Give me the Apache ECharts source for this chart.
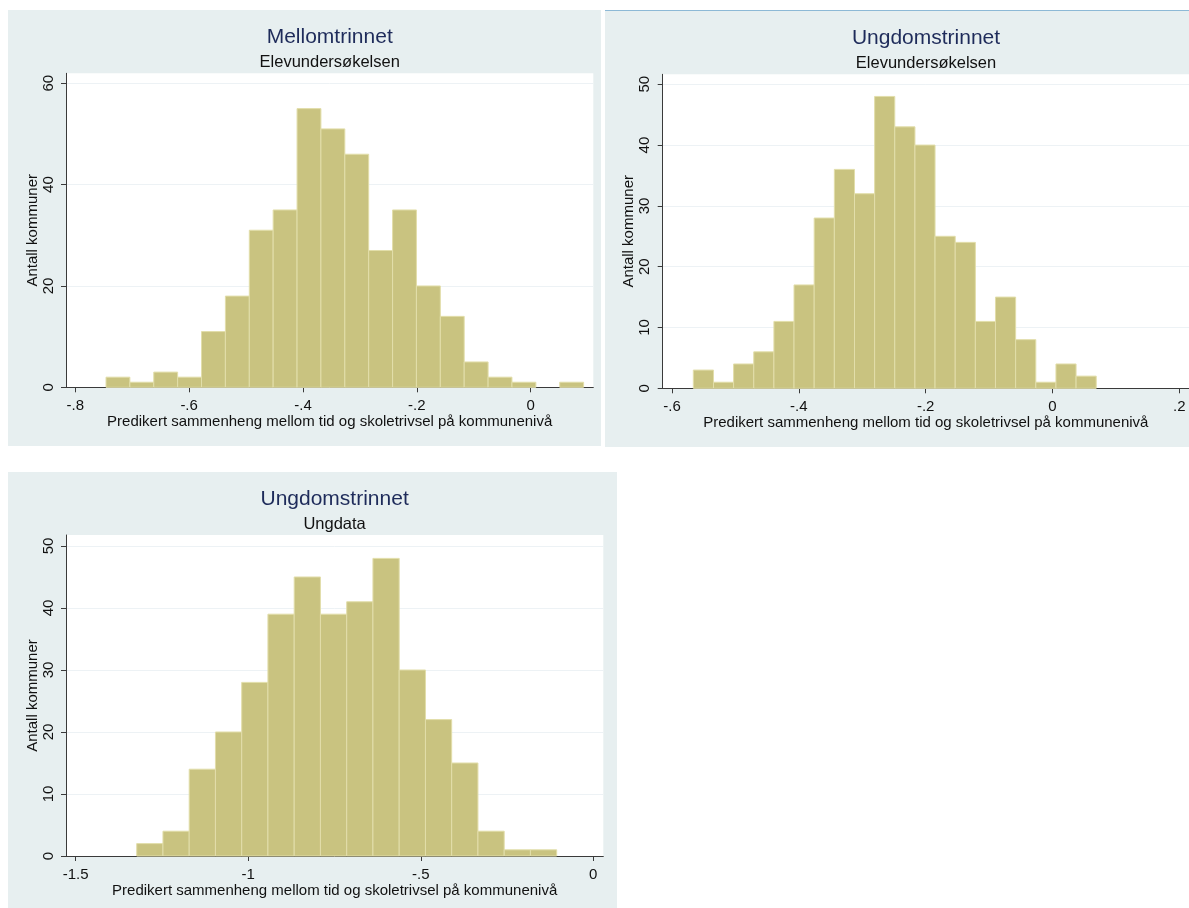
<!DOCTYPE html>
<html>
<head>
<meta charset="utf-8">
<title>Predikert sammenheng mellom tid og skoletrivsel</title>
<script src="https://cdn.jsdelivr.net/npm/echarts@6/dist/echarts.min.js"></script>
<style>
  html, body { margin: 0; padding: 0; background: #ffffff; }
  #chart { width: 1189px; height: 908px; }
</style>
</head>
<body>
<div id="chart"></div>
<script>
// Histogram bins: lower/upper edges and number of municipalities per bin

// Mellomtrinnet, Elevundersøkelsen
const mellomEdges = [-0.746, -0.7041, -0.6621, -0.6202, -0.5782, -0.5363, -0.4943, -0.4524, -0.4104, -0.3685,
  -0.3265, -0.2846, -0.2426, -0.2007, -0.1587, -0.1168, -0.0748, -0.0329, 0.0091, 0.0510, 0.0930];
const mellomCounts = [2, 1, 3, 2, 11, 18, 31, 35, 55, 51, 46, 27, 35, 20, 14, 5, 2, 1, 0, 1];

// Ungdomstrinnet, Elevundersøkelsen
const ungEleEdges = [-0.5664, -0.5346, -0.5029, -0.4711, -0.4393, -0.4076, -0.3758, -0.3440, -0.3122, -0.2805,
  -0.2487, -0.2169, -0.1852, -0.1534, -0.1216, -0.0899, -0.0581, -0.0263, 0.0055, 0.0372, 0.0690];
const ungEleCounts = [3, 1, 4, 6, 11, 17, 28, 36, 32, 48, 43, 40, 25, 24, 11, 15, 8, 1, 4, 2];

// Ungdomstrinnet, Ungdata
const ungdataEdges = [-1.3232, -1.2471, -1.1711, -1.0950, -1.0189, -0.9429, -0.8668, -0.7907, -0.7146,
  -0.6386, -0.5625, -0.4864, -0.4104, -0.3343, -0.2582, -0.1822, -0.1061];
const ungdataCounts = [2, 4, 14, 20, 28, 39, 45, 39, 41, 48, 30, 22, 15, 4, 1, 1];

// Axis tick values
const mellomXTicks = [-0.8, -0.6, -0.4, -0.2, 0];
const mellomYTicks = [0, 20, 40, 60];
const ungEleXTicks = [-0.6, -0.4, -0.2, 0, 0.2];
const ungEleYTicks = [0, 10, 20, 30, 40, 50];
const ungdataXTicks = [-1.5, -1, -0.5, 0];
const ungdataYTicks = [0, 10, 20, 30, 40, 50];

// Texts
const panelTitles = ['Mellomtrinnet', 'Ungdomstrinnet', 'Ungdomstrinnet'];
const panelSubtitles = ['Elevundersøkelsen', 'Elevundersøkelsen', 'Ungdata'];
const xName = 'Predikert sammenheng mellom tid og skoletrivsel på kommunenivå';
const yName = 'Antall kommuner';

// ---------------------------------------------------------------

const FONT = '"Liberation Sans", Arial, Helvetica, sans-serif';
const PANEL_BG = '#e7eff0';
const BAR_FILL = '#c9c380';
const BAR_EDGE = '#e2deaa';
const AXIS_COL = '#3a3a3a';

function binData(edges, counts) {
  return counts.map((c, i) => [edges[i], edges[i + 1], c]);
}

// Stata-style number labels: -.8, .2, -1.5, 0
function stataNum(v) {
  const s = String(+(+v).toFixed(4));
  return s.replace(/^(-?)0\./, '$1.');
}

function renderBin(params, api) {
  const n = api.value(2);
  if (!n) return null;
  const p0 = api.coord([api.value(0), n]);
  const p1 = api.coord([api.value(1), 0]);
  return {
    type: 'rect',
    shape: { x: p0[0], y: p0[1], width: p1[0] - p0[0], height: p1[1] - p0[1] },
    style: { fill: BAR_FILL, stroke: BAR_EDGE, lineWidth: 1 }
  };
}

function xAxisCfg(gridIndex, min, max, ticks) {
  return {
    type: 'value', gridIndex, min, max,
    name: xName, nameLocation: 'middle', nameGap: 26,
    nameTextStyle: { fontFamily: FONT, fontSize: 15, color: '#111' },
    axisLine: { show: true, onZero: false, lineStyle: { color: AXIS_COL, width: 1 } },
    axisTick: { show: true, length: 5, customValues: ticks, lineStyle: { color: AXIS_COL } },
    axisLabel: { customValues: ticks, formatter: stataNum, margin: 11,
      fontFamily: FONT, fontSize: 15, color: '#111' },
    splitLine: { show: false }
  };
}

function yAxisCfg(gridIndex, max, ticks) {
  return {
    type: 'value', gridIndex, min: 0, max,
    name: yName, nameLocation: 'middle', nameGap: 26, nameRotate: 90,
    nameTextStyle: { fontFamily: FONT, fontSize: 15, color: '#111' },
    axisLine: { show: true, onZero: false, lineStyle: { color: AXIS_COL, width: 1 } },
    axisTick: { show: true, length: 5, customValues: ticks, lineStyle: { color: AXIS_COL } },
    axisLabel: { customValues: ticks, rotate: 90, margin: 10, formatter: stataNum,
      fontFamily: FONT, fontSize: 15, color: '#111' },
    splitLine: { show: true, lineStyle: { color: '#edf2f5', width: 1 } }
  };
}

function titleCfg(i, centerX, top) {
  return {
    text: panelTitles[i], subtext: panelSubtitles[i],
    left: centerX, top, textAlign: 'center', padding: 0, itemGap: 6,
    textStyle: { fontFamily: FONT, fontSize: 21, fontWeight: 'normal', color: '#1e2b5a' },
    subtextStyle: { fontFamily: FONT, fontSize: 16.5, color: '#111' }
  };
}

const chart = echarts.init(document.getElementById('chart'), null, { renderer: 'canvas' });

chart.setOption({
  animation: false,
  backgroundColor: '#ffffff',
  graphic: [
    { type: 'rect', z: -10, shape: { x: 8, y: 10, width: 593, height: 436 }, style: { fill: PANEL_BG } },
    { type: 'rect', z: -10, shape: { x: 605, y: 10, width: 584, height: 437 }, style: { fill: PANEL_BG } },
    { type: 'line', z: -9, shape: { x1: 605, y1: 10.5, x2: 1189, y2: 10.5 }, style: { stroke: '#8db9d6', lineWidth: 1 } },
    { type: 'rect', z: -10, shape: { x: 8, y: 472, width: 609, height: 436 }, style: { fill: PANEL_BG } }
  ],
  title: [
    titleCfg(0, 329.7, 27),
    titleCfg(1, 926, 28),
    titleCfg(2, 334.6, 489)
  ],
  grid: [
    { left: 66, top: 73.3, width: 527.3, height: 314, show: true, backgroundColor: '#ffffff', borderWidth: 0 },
    { left: 662.7, top: 74.3, width: 526.3, height: 314, show: true, backgroundColor: '#ffffff', borderWidth: 0 },
    { left: 66, top: 535, width: 537.3, height: 321, show: true, backgroundColor: '#ffffff', borderWidth: 0 }
  ],
  xAxis: [
    xAxisCfg(0, -0.8163, 0.110, mellomXTicks),
    xAxisCfg(1, -0.6147, 0.2153, ungEleXTicks),
    xAxisCfg(2, -1.5281, 0.029, ungdataXTicks)
  ],
  yAxis: [
    yAxisCfg(0, 61.97, mellomYTicks),
    yAxisCfg(1, 51.64, ungEleYTicks),
    yAxisCfg(2, 51.77, ungdataYTicks)
  ],
  series: [
    { type: 'custom', xAxisIndex: 0, yAxisIndex: 0, renderItem: renderBin,
      encode: { x: [0, 1], y: 2 }, data: binData(mellomEdges, mellomCounts) },
    { type: 'custom', xAxisIndex: 1, yAxisIndex: 1, renderItem: renderBin,
      encode: { x: [0, 1], y: 2 }, data: binData(ungEleEdges, ungEleCounts) },
    { type: 'custom', xAxisIndex: 2, yAxisIndex: 2, renderItem: renderBin,
      encode: { x: [0, 1], y: 2 }, data: binData(ungdataEdges, ungdataCounts) }
  ]
});
</script>
</body>
</html>
